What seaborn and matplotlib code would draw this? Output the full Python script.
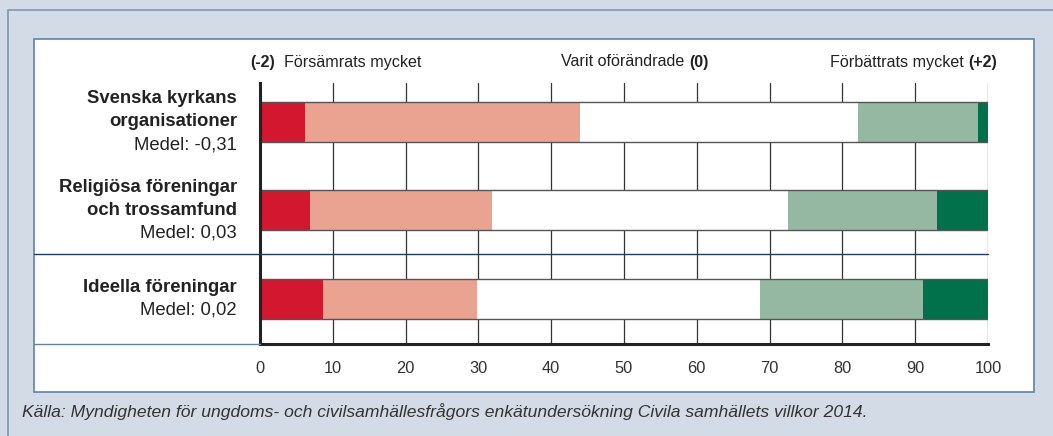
import matplotlib
matplotlib.use("Agg")
import matplotlib.pyplot as plt
from matplotlib.patches import Rectangle
import numpy as np
import pandas as pd
import seaborn as sns

# ── data ─────────────────────────────────────────────────────────────────────
groups = ["Svenska kyrkans\norganisationer",
          "Religiösa föreningar\noch trossamfund",
          "Ideella föreningar"]
means = [-0.31, 0.03, 0.02]

much_worse  = [6.2, 6.9, 8.6]      # (-2) Försämrats mycket
worse       = [37.8, 25.0, 21.2]
unchanged   = [38.1, 40.6, 38.9]   # (0) Varit oförändrade
better      = [16.5, 20.5, 22.4]
much_better = [1.4, 7.0, 8.9]      # (+2) Förbättrats mycket

x_ticks = [0, 10, 20, 30, 40, 50, 60, 70, 80, 90, 100]
source = ("Källa: Myndigheten för ungdoms- och civilsamhällesfrågors "
          "enkätundersökning Civila samhällets villkor 2014.")

# ── style ────────────────────────────────────────────────────────────────────
sns.set_style("white")
plt.rcParams["font.family"] = ["Liberation Sans", "DejaVu Sans"]

seg_cols   = ["much_worse", "worse", "unchanged", "better", "much_better"]
seg_colors = ["#d2172f", "#eaa291", "#ffffff", "#95b8a3", "#00714a"]

df = pd.DataFrame({"group": groups, "much_worse": much_worse, "worse": worse,
                   "unchanged": unchanged, "better": better,
                   "much_better": much_better})
cum = df[seg_cols].cumsum(axis=1)
cum["group"] = df["group"]

W, H = 1053, 436
fig = plt.figure(figsize=(W / 100, H / 100), dpi=100)
fig.patch.set_facecolor("#d3dbe7")

# outer frame line (runs off the right/bottom of the picture)
fig.add_artist(Rectangle((8 / W, -0.5), 2, 1 - 10 / H + 0.5, transform=fig.transFigure,
                         facecolor="none", edgecolor="#7d98b8", lw=1.2, zorder=0))
# white inner panel
fig.add_artist(Rectangle((34 / W, 1 - 392 / H), (1034 - 34) / W, (392 - 39) / H,
                         transform=fig.transFigure, facecolor="white",
                         edgecolor="#5f82a8", lw=1.2, zorder=0))

ax = fig.add_axes([260 / W, 1 - 344 / H, (988 - 260) / W, (344 - 83) / H])
ax.set_facecolor("white")

bar_w = 0.45
# stacked bars: draw cumulative layers from the widest to the narrowest
for col, c in reversed(list(zip(seg_cols, seg_colors))):
    sns.barplot(data=cum, x=col, y="group", orient="h", color=c, saturation=1,
                width=bar_w, linewidth=0, ax=ax, zorder=2)
# thin outline on top and bottom of each full bar
sns.barplot(data=cum, x="much_better", y="group", orient="h", color="#555555",
            fill=False, width=bar_w, linewidth=1.0, ax=ax, zorder=3)

ax.set_xlim(0, 100)
ax.set_ylim(2.51, -0.44)
ax.set_xticks(x_ticks)
ax.set_xticklabels([str(t) for t in x_ticks], fontsize=11.8, color="#333333")
ax.tick_params(axis="x", length=0, pad=12.5)
ax.set_yticks([])
ax.set_xlabel("")
ax.set_ylabel("")

ax.xaxis.grid(True, color="#333333", lw=0.9)
ax.set_axisbelow(True)
for s in ["top", "right"]:
    ax.spines[s].set_visible(False)
for s in ["left", "bottom"]:
    ax.spines[s].set_color("#222222")
    ax.spines[s].set_linewidth(2.2)
    ax.spines[s].set_zorder(4)

# separator between the church rows and the non-profit row
sep_left = (34 - 260) / (988 - 260)
ax.plot([sep_left, 1], [1 - (254 - 83) / (344 - 83)] * 2, transform=ax.transAxes,
        color="#1f3d63", lw=1.0, clip_on=False, zorder=5)
ax.plot([sep_left, 0], [0, 0], transform=ax.transAxes,
        color="#5f82a8", lw=1.0, clip_on=False, zorder=5)

# row labels
for i, (name, m) in enumerate(zip(groups, means)):
    lines = [(t, "bold") for t in name.split("\n")]
    lines.append((f"Medel: {m:.2f}".replace(".", ","), "normal"))
    n = len(lines)
    for k, (txt, wt) in enumerate(lines):
        ax.annotate(txt, xy=(0, i), xycoords="data",
                    xytext=(-23, ((n - 1) / 2 - k) * 23), textcoords="offset pixels",
                    ha="right", va="center", fontsize=13.3, fontweight=wt,
                    color="#222222", annotation_clip=False)

# header scale labels
hy = 1 + 21 / (344 - 83)
hdr = dict(fontsize=11.6, color="#222222", va="center")
t1 = ax.text(-1.4, hy, "(-2)", fontweight="bold", ha="left",
             transform=ax.get_xaxis_transform(), **hdr)
ax.annotate("  Försämrats mycket", xy=(1, 0.5), xycoords=t1, ha="left", **hdr)
t2 = ax.text(58.9, hy, "Varit oförändrade ", ha="right",
             transform=ax.get_xaxis_transform(), **hdr)
ax.annotate("(0)", xy=(1, 0.5), xycoords=t2, ha="left", fontweight="bold", **hdr)
t3 = ax.text(101.2, hy, "(+2)", fontweight="bold", ha="right",
             transform=ax.get_xaxis_transform(), **hdr)
ax.annotate("Förbättrats mycket ", xy=(0, 0.5), xycoords=t3, ha="right", **hdr)

fig.text(22 / W, 1 - 412 / H, source, fontsize=12.6, style="italic", color="#333333",
         ha="left", va="center")

fig.savefig("out.png", dpi=100)
